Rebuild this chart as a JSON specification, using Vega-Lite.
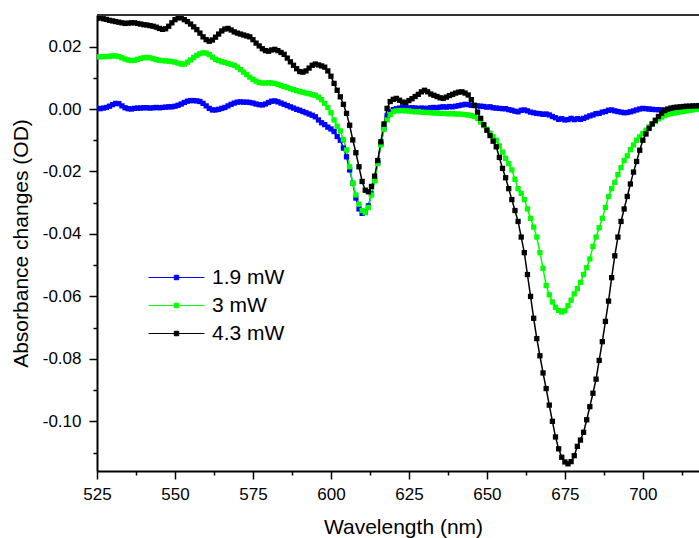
{
"$schema": "https://vega.github.io/schema/vega-lite/v6.json",
"autosize": "none",
"padding": {"left": 97, "top": 15, "right": 0, "bottom": 67},
"width": 602,
"height": 456,
"config": {"font": "Liberation Sans", "view": {"stroke": null}, "axis": {"grid": false}},
"datasets": {"spec": [
{"w":525,"a":0.0002,"s":"1.9 mW"},{"w":526,"a":0.0001,"s":"1.9 mW"},{"w":527,"a":0.0003,"s":"1.9 mW"},{"w":528,"a":0.0005,"s":"1.9 mW"},{"w":529,"a":0.0009,"s":"1.9 mW"},{"w":530,"a":0.0014,"s":"1.9 mW"},{"w":531,"a":0.0018,"s":"1.9 mW"},{"w":532,"a":0.0017,"s":"1.9 mW"},{"w":533,"a":0.0010,"s":"1.9 mW"},{"w":534,"a":0.0004,"s":"1.9 mW"},{"w":535,"a":0.0001,"s":"1.9 mW"},{"w":536,"a":0.0000,"s":"1.9 mW"},{"w":537,"a":0.0002,"s":"1.9 mW"},{"w":538,"a":0.0003,"s":"1.9 mW"},{"w":539,"a":0.0003,"s":"1.9 mW"},{"w":540,"a":0.0004,"s":"1.9 mW"},{"w":541,"a":0.0004,"s":"1.9 mW"},{"w":542,"a":0.0003,"s":"1.9 mW"},{"w":543,"a":0.0004,"s":"1.9 mW"},{"w":544,"a":0.0005,"s":"1.9 mW"},{"w":545,"a":0.0004,"s":"1.9 mW"},{"w":546,"a":0.0005,"s":"1.9 mW"},{"w":547,"a":0.0006,"s":"1.9 mW"},{"w":548,"a":0.0007,"s":"1.9 mW"},{"w":549,"a":0.0007,"s":"1.9 mW"},{"w":550,"a":0.0009,"s":"1.9 mW"},{"w":551,"a":0.0012,"s":"1.9 mW"},{"w":552,"a":0.0016,"s":"1.9 mW"},{"w":553,"a":0.0021,"s":"1.9 mW"},{"w":554,"a":0.0025,"s":"1.9 mW"},{"w":555,"a":0.0027,"s":"1.9 mW"},{"w":556,"a":0.0027,"s":"1.9 mW"},{"w":557,"a":0.0026,"s":"1.9 mW"},{"w":558,"a":0.0024,"s":"1.9 mW"},{"w":559,"a":0.0018,"s":"1.9 mW"},{"w":560,"a":0.0010,"s":"1.9 mW"},{"w":561,"a":0.0002,"s":"1.9 mW"},{"w":562,"a":-0.0003,"s":"1.9 mW"},{"w":563,"a":-0.0003,"s":"1.9 mW"},{"w":564,"a":-0.0001,"s":"1.9 mW"},{"w":565,"a":0.0002,"s":"1.9 mW"},{"w":566,"a":0.0005,"s":"1.9 mW"},{"w":567,"a":0.0010,"s":"1.9 mW"},{"w":568,"a":0.0015,"s":"1.9 mW"},{"w":569,"a":0.0019,"s":"1.9 mW"},{"w":570,"a":0.0022,"s":"1.9 mW"},{"w":571,"a":0.0023,"s":"1.9 mW"},{"w":572,"a":0.0022,"s":"1.9 mW"},{"w":573,"a":0.0022,"s":"1.9 mW"},{"w":574,"a":0.0021,"s":"1.9 mW"},{"w":575,"a":0.0019,"s":"1.9 mW"},{"w":576,"a":0.0016,"s":"1.9 mW"},{"w":577,"a":0.0014,"s":"1.9 mW"},{"w":578,"a":0.0013,"s":"1.9 mW"},{"w":579,"a":0.0016,"s":"1.9 mW"},{"w":580,"a":0.0021,"s":"1.9 mW"},{"w":581,"a":0.0025,"s":"1.9 mW"},{"w":582,"a":0.0026,"s":"1.9 mW"},{"w":583,"a":0.0023,"s":"1.9 mW"},{"w":584,"a":0.0019,"s":"1.9 mW"},{"w":585,"a":0.0015,"s":"1.9 mW"},{"w":586,"a":0.0011,"s":"1.9 mW"},{"w":587,"a":0.0007,"s":"1.9 mW"},{"w":588,"a":0.0003,"s":"1.9 mW"},{"w":589,"a":-0.0001,"s":"1.9 mW"},{"w":590,"a":-0.0004,"s":"1.9 mW"},{"w":591,"a":-0.0008,"s":"1.9 mW"},{"w":592,"a":-0.0012,"s":"1.9 mW"},{"w":593,"a":-0.0016,"s":"1.9 mW"},{"w":594,"a":-0.0020,"s":"1.9 mW"},{"w":595,"a":-0.0025,"s":"1.9 mW"},{"w":596,"a":-0.0035,"s":"1.9 mW"},{"w":597,"a":-0.0044,"s":"1.9 mW"},{"w":598,"a":-0.0050,"s":"1.9 mW"},{"w":599,"a":-0.0058,"s":"1.9 mW"},{"w":600,"a":-0.0064,"s":"1.9 mW"},{"w":601,"a":-0.0072,"s":"1.9 mW"},{"w":602,"a":-0.0088,"s":"1.9 mW"},{"w":603,"a":-0.0100,"s":"1.9 mW"},{"w":604,"a":-0.0125,"s":"1.9 mW"},{"w":605,"a":-0.0153,"s":"1.9 mW"},{"w":606,"a":-0.0195,"s":"1.9 mW"},{"w":607,"a":-0.0238,"s":"1.9 mW"},{"w":608,"a":-0.0285,"s":"1.9 mW"},{"w":609,"a":-0.0320,"s":"1.9 mW"},{"w":610,"a":-0.0334,"s":"1.9 mW"},{"w":611,"a":-0.0330,"s":"1.9 mW"},{"w":612,"a":-0.0310,"s":"1.9 mW"},{"w":613,"a":-0.0272,"s":"1.9 mW"},{"w":614,"a":-0.0228,"s":"1.9 mW"},{"w":615,"a":-0.0172,"s":"1.9 mW"},{"w":616,"a":-0.0112,"s":"1.9 mW"},{"w":617,"a":-0.0060,"s":"1.9 mW"},{"w":618,"a":-0.0022,"s":"1.9 mW"},{"w":619,"a":-0.0008,"s":"1.9 mW"},{"w":620,"a":-0.0002,"s":"1.9 mW"},{"w":621,"a":0.0001,"s":"1.9 mW"},{"w":622,"a":0.0003,"s":"1.9 mW"},{"w":623,"a":0.0005,"s":"1.9 mW"},{"w":624,"a":0.0004,"s":"1.9 mW"},{"w":625,"a":0.0003,"s":"1.9 mW"},{"w":626,"a":0.0004,"s":"1.9 mW"},{"w":627,"a":0.0003,"s":"1.9 mW"},{"w":628,"a":0.0002,"s":"1.9 mW"},{"w":629,"a":0.0003,"s":"1.9 mW"},{"w":630,"a":0.0002,"s":"1.9 mW"},{"w":631,"a":0.0002,"s":"1.9 mW"},{"w":632,"a":0.0004,"s":"1.9 mW"},{"w":633,"a":0.0005,"s":"1.9 mW"},{"w":634,"a":0.0004,"s":"1.9 mW"},{"w":635,"a":0.0006,"s":"1.9 mW"},{"w":636,"a":0.0007,"s":"1.9 mW"},{"w":637,"a":0.0006,"s":"1.9 mW"},{"w":638,"a":0.0008,"s":"1.9 mW"},{"w":639,"a":0.0007,"s":"1.9 mW"},{"w":640,"a":0.0009,"s":"1.9 mW"},{"w":641,"a":0.0011,"s":"1.9 mW"},{"w":642,"a":0.0013,"s":"1.9 mW"},{"w":643,"a":0.0015,"s":"1.9 mW"},{"w":644,"a":0.0014,"s":"1.9 mW"},{"w":645,"a":0.0012,"s":"1.9 mW"},{"w":646,"a":0.0011,"s":"1.9 mW"},{"w":647,"a":0.0010,"s":"1.9 mW"},{"w":648,"a":0.0009,"s":"1.9 mW"},{"w":649,"a":0.0008,"s":"1.9 mW"},{"w":650,"a":0.0006,"s":"1.9 mW"},{"w":651,"a":0.0007,"s":"1.9 mW"},{"w":652,"a":0.0004,"s":"1.9 mW"},{"w":653,"a":0.0003,"s":"1.9 mW"},{"w":654,"a":0.0002,"s":"1.9 mW"},{"w":655,"a":0.0001,"s":"1.9 mW"},{"w":656,"a":0.0001,"s":"1.9 mW"},{"w":657,"a":-0.0002,"s":"1.9 mW"},{"w":658,"a":-0.0004,"s":"1.9 mW"},{"w":659,"a":-0.0007,"s":"1.9 mW"},{"w":660,"a":-0.0009,"s":"1.9 mW"},{"w":661,"a":-0.0004,"s":"1.9 mW"},{"w":662,"a":-0.0003,"s":"1.9 mW"},{"w":663,"a":-0.0006,"s":"1.9 mW"},{"w":664,"a":-0.0010,"s":"1.9 mW"},{"w":665,"a":-0.0012,"s":"1.9 mW"},{"w":666,"a":-0.0014,"s":"1.9 mW"},{"w":667,"a":-0.0015,"s":"1.9 mW"},{"w":668,"a":-0.0017,"s":"1.9 mW"},{"w":669,"a":-0.0016,"s":"1.9 mW"},{"w":670,"a":-0.0019,"s":"1.9 mW"},{"w":671,"a":-0.0024,"s":"1.9 mW"},{"w":672,"a":-0.0028,"s":"1.9 mW"},{"w":673,"a":-0.0033,"s":"1.9 mW"},{"w":674,"a":-0.0031,"s":"1.9 mW"},{"w":675,"a":-0.0035,"s":"1.9 mW"},{"w":676,"a":-0.0034,"s":"1.9 mW"},{"w":677,"a":-0.0030,"s":"1.9 mW"},{"w":678,"a":-0.0034,"s":"1.9 mW"},{"w":679,"a":-0.0031,"s":"1.9 mW"},{"w":680,"a":-0.0033,"s":"1.9 mW"},{"w":681,"a":-0.0030,"s":"1.9 mW"},{"w":682,"a":-0.0026,"s":"1.9 mW"},{"w":683,"a":-0.0022,"s":"1.9 mW"},{"w":684,"a":-0.0019,"s":"1.9 mW"},{"w":685,"a":-0.0015,"s":"1.9 mW"},{"w":686,"a":-0.0014,"s":"1.9 mW"},{"w":687,"a":-0.0010,"s":"1.9 mW"},{"w":688,"a":-0.0008,"s":"1.9 mW"},{"w":689,"a":-0.0004,"s":"1.9 mW"},{"w":690,"a":-0.0003,"s":"1.9 mW"},{"w":691,"a":-0.0006,"s":"1.9 mW"},{"w":692,"a":-0.0008,"s":"1.9 mW"},{"w":693,"a":-0.0010,"s":"1.9 mW"},{"w":694,"a":-0.0012,"s":"1.9 mW"},{"w":695,"a":-0.0011,"s":"1.9 mW"},{"w":696,"a":-0.0009,"s":"1.9 mW"},{"w":697,"a":-0.0006,"s":"1.9 mW"},{"w":698,"a":-0.0003,"s":"1.9 mW"},{"w":699,"a":0.0000,"s":"1.9 mW"},{"w":700,"a":0.0002,"s":"1.9 mW"},{"w":701,"a":0.0001,"s":"1.9 mW"},{"w":702,"a":0.0000,"s":"1.9 mW"},{"w":703,"a":-0.0001,"s":"1.9 mW"},{"w":704,"a":-0.0002,"s":"1.9 mW"},{"w":705,"a":-0.0002,"s":"1.9 mW"},{"w":706,"a":-0.0003,"s":"1.9 mW"},{"w":707,"a":-0.0003,"s":"1.9 mW"},{"w":708,"a":-0.0002,"s":"1.9 mW"},{"w":709,"a":-0.0001,"s":"1.9 mW"},{"w":710,"a":0.0000,"s":"1.9 mW"},{"w":711,"a":0.0001,"s":"1.9 mW"},{"w":712,"a":0.0002,"s":"1.9 mW"},{"w":713,"a":0.0002,"s":"1.9 mW"},{"w":714,"a":0.0003,"s":"1.9 mW"},{"w":715,"a":0.0004,"s":"1.9 mW"},{"w":716,"a":0.0005,"s":"1.9 mW"},{"w":717,"a":0.0006,"s":"1.9 mW"},{"w":718,"a":0.0007,"s":"1.9 mW"},
{"w":525,"a":0.0167,"s":"3 mW"},{"w":526,"a":0.0167,"s":"3 mW"},{"w":527,"a":0.0168,"s":"3 mW"},{"w":528,"a":0.0168,"s":"3 mW"},{"w":529,"a":0.0169,"s":"3 mW"},{"w":530,"a":0.0170,"s":"3 mW"},{"w":531,"a":0.0170,"s":"3 mW"},{"w":532,"a":0.0168,"s":"3 mW"},{"w":533,"a":0.0164,"s":"3 mW"},{"w":534,"a":0.0160,"s":"3 mW"},{"w":535,"a":0.0157,"s":"3 mW"},{"w":536,"a":0.0155,"s":"3 mW"},{"w":537,"a":0.0156,"s":"3 mW"},{"w":538,"a":0.0159,"s":"3 mW"},{"w":539,"a":0.0162,"s":"3 mW"},{"w":540,"a":0.0164,"s":"3 mW"},{"w":541,"a":0.0165,"s":"3 mW"},{"w":542,"a":0.0164,"s":"3 mW"},{"w":543,"a":0.0161,"s":"3 mW"},{"w":544,"a":0.0158,"s":"3 mW"},{"w":545,"a":0.0156,"s":"3 mW"},{"w":546,"a":0.0155,"s":"3 mW"},{"w":547,"a":0.0154,"s":"3 mW"},{"w":548,"a":0.0153,"s":"3 mW"},{"w":549,"a":0.0152,"s":"3 mW"},{"w":550,"a":0.0150,"s":"3 mW"},{"w":551,"a":0.0147,"s":"3 mW"},{"w":552,"a":0.0144,"s":"3 mW"},{"w":553,"a":0.0144,"s":"3 mW"},{"w":554,"a":0.0150,"s":"3 mW"},{"w":555,"a":0.0157,"s":"3 mW"},{"w":556,"a":0.0165,"s":"3 mW"},{"w":557,"a":0.0172,"s":"3 mW"},{"w":558,"a":0.0177,"s":"3 mW"},{"w":559,"a":0.0180,"s":"3 mW"},{"w":560,"a":0.0179,"s":"3 mW"},{"w":561,"a":0.0174,"s":"3 mW"},{"w":562,"a":0.0166,"s":"3 mW"},{"w":563,"a":0.0159,"s":"3 mW"},{"w":564,"a":0.0155,"s":"3 mW"},{"w":565,"a":0.0151,"s":"3 mW"},{"w":566,"a":0.0149,"s":"3 mW"},{"w":567,"a":0.0146,"s":"3 mW"},{"w":568,"a":0.0143,"s":"3 mW"},{"w":569,"a":0.0140,"s":"3 mW"},{"w":570,"a":0.0134,"s":"3 mW"},{"w":571,"a":0.0126,"s":"3 mW"},{"w":572,"a":0.0118,"s":"3 mW"},{"w":573,"a":0.0110,"s":"3 mW"},{"w":574,"a":0.0102,"s":"3 mW"},{"w":575,"a":0.0095,"s":"3 mW"},{"w":576,"a":0.0089,"s":"3 mW"},{"w":577,"a":0.0085,"s":"3 mW"},{"w":578,"a":0.0083,"s":"3 mW"},{"w":579,"a":0.0083,"s":"3 mW"},{"w":580,"a":0.0084,"s":"3 mW"},{"w":581,"a":0.0083,"s":"3 mW"},{"w":582,"a":0.0082,"s":"3 mW"},{"w":583,"a":0.0079,"s":"3 mW"},{"w":584,"a":0.0075,"s":"3 mW"},{"w":585,"a":0.0072,"s":"3 mW"},{"w":586,"a":0.0069,"s":"3 mW"},{"w":587,"a":0.0065,"s":"3 mW"},{"w":588,"a":0.0062,"s":"3 mW"},{"w":589,"a":0.0059,"s":"3 mW"},{"w":590,"a":0.0056,"s":"3 mW"},{"w":591,"a":0.0054,"s":"3 mW"},{"w":592,"a":0.0051,"s":"3 mW"},{"w":593,"a":0.0049,"s":"3 mW"},{"w":594,"a":0.0046,"s":"3 mW"},{"w":595,"a":0.0044,"s":"3 mW"},{"w":596,"a":0.0038,"s":"3 mW"},{"w":597,"a":0.0030,"s":"3 mW"},{"w":598,"a":0.0018,"s":"3 mW"},{"w":599,"a":0.0005,"s":"3 mW"},{"w":600,"a":-0.0012,"s":"3 mW"},{"w":601,"a":-0.0035,"s":"3 mW"},{"w":602,"a":-0.0055,"s":"3 mW"},{"w":603,"a":-0.0070,"s":"3 mW"},{"w":604,"a":-0.0098,"s":"3 mW"},{"w":605,"a":-0.0131,"s":"3 mW"},{"w":606,"a":-0.0185,"s":"3 mW"},{"w":607,"a":-0.0238,"s":"3 mW"},{"w":608,"a":-0.0275,"s":"3 mW"},{"w":609,"a":-0.0305,"s":"3 mW"},{"w":610,"a":-0.0325,"s":"3 mW"},{"w":611,"a":-0.0332,"s":"3 mW"},{"w":612,"a":-0.0315,"s":"3 mW"},{"w":613,"a":-0.0275,"s":"3 mW"},{"w":614,"a":-0.0230,"s":"3 mW"},{"w":615,"a":-0.0175,"s":"3 mW"},{"w":616,"a":-0.0115,"s":"3 mW"},{"w":617,"a":-0.0065,"s":"3 mW"},{"w":618,"a":-0.0035,"s":"3 mW"},{"w":619,"a":-0.0018,"s":"3 mW"},{"w":620,"a":-0.0008,"s":"3 mW"},{"w":621,"a":-0.0006,"s":"3 mW"},{"w":622,"a":-0.0005,"s":"3 mW"},{"w":623,"a":-0.0005,"s":"3 mW"},{"w":624,"a":-0.0006,"s":"3 mW"},{"w":625,"a":-0.0006,"s":"3 mW"},{"w":626,"a":-0.0008,"s":"3 mW"},{"w":627,"a":-0.0009,"s":"3 mW"},{"w":628,"a":-0.0008,"s":"3 mW"},{"w":629,"a":-0.0010,"s":"3 mW"},{"w":630,"a":-0.0011,"s":"3 mW"},{"w":631,"a":-0.0011,"s":"3 mW"},{"w":632,"a":-0.0012,"s":"3 mW"},{"w":633,"a":-0.0013,"s":"3 mW"},{"w":634,"a":-0.0013,"s":"3 mW"},{"w":635,"a":-0.0014,"s":"3 mW"},{"w":636,"a":-0.0014,"s":"3 mW"},{"w":637,"a":-0.0015,"s":"3 mW"},{"w":638,"a":-0.0015,"s":"3 mW"},{"w":639,"a":-0.0015,"s":"3 mW"},{"w":640,"a":-0.0016,"s":"3 mW"},{"w":641,"a":-0.0016,"s":"3 mW"},{"w":642,"a":-0.0017,"s":"3 mW"},{"w":643,"a":-0.0018,"s":"3 mW"},{"w":644,"a":-0.0019,"s":"3 mW"},{"w":645,"a":-0.0021,"s":"3 mW"},{"w":646,"a":-0.0024,"s":"3 mW"},{"w":647,"a":-0.0030,"s":"3 mW"},{"w":648,"a":-0.0042,"s":"3 mW"},{"w":649,"a":-0.0053,"s":"3 mW"},{"w":650,"a":-0.0065,"s":"3 mW"},{"w":651,"a":-0.0077,"s":"3 mW"},{"w":652,"a":-0.0089,"s":"3 mW"},{"w":653,"a":-0.0100,"s":"3 mW"},{"w":654,"a":-0.0118,"s":"3 mW"},{"w":655,"a":-0.0138,"s":"3 mW"},{"w":656,"a":-0.0158,"s":"3 mW"},{"w":657,"a":-0.0175,"s":"3 mW"},{"w":658,"a":-0.0195,"s":"3 mW"},{"w":659,"a":-0.0225,"s":"3 mW"},{"w":660,"a":-0.0255,"s":"3 mW"},{"w":661,"a":-0.0270,"s":"3 mW"},{"w":662,"a":-0.0290,"s":"3 mW"},{"w":663,"a":-0.0320,"s":"3 mW"},{"w":664,"a":-0.0350,"s":"3 mW"},{"w":665,"a":-0.0378,"s":"3 mW"},{"w":666,"a":-0.0410,"s":"3 mW"},{"w":667,"a":-0.0460,"s":"3 mW"},{"w":668,"a":-0.0510,"s":"3 mW"},{"w":669,"a":-0.0565,"s":"3 mW"},{"w":670,"a":-0.0595,"s":"3 mW"},{"w":671,"a":-0.0618,"s":"3 mW"},{"w":672,"a":-0.0635,"s":"3 mW"},{"w":673,"a":-0.0645,"s":"3 mW"},{"w":674,"a":-0.0650,"s":"3 mW"},{"w":675,"a":-0.0646,"s":"3 mW"},{"w":676,"a":-0.0630,"s":"3 mW"},{"w":677,"a":-0.0612,"s":"3 mW"},{"w":678,"a":-0.0592,"s":"3 mW"},{"w":679,"a":-0.0575,"s":"3 mW"},{"w":680,"a":-0.0555,"s":"3 mW"},{"w":681,"a":-0.0530,"s":"3 mW"},{"w":682,"a":-0.0508,"s":"3 mW"},{"w":683,"a":-0.0480,"s":"3 mW"},{"w":684,"a":-0.0440,"s":"3 mW"},{"w":685,"a":-0.0410,"s":"3 mW"},{"w":686,"a":-0.0380,"s":"3 mW"},{"w":687,"a":-0.0350,"s":"3 mW"},{"w":688,"a":-0.0315,"s":"3 mW"},{"w":689,"a":-0.0280,"s":"3 mW"},{"w":690,"a":-0.0255,"s":"3 mW"},{"w":691,"a":-0.0235,"s":"3 mW"},{"w":692,"a":-0.0210,"s":"3 mW"},{"w":693,"a":-0.0188,"s":"3 mW"},{"w":694,"a":-0.0165,"s":"3 mW"},{"w":695,"a":-0.0150,"s":"3 mW"},{"w":696,"a":-0.0130,"s":"3 mW"},{"w":697,"a":-0.0115,"s":"3 mW"},{"w":698,"a":-0.0100,"s":"3 mW"},{"w":699,"a":-0.0089,"s":"3 mW"},{"w":700,"a":-0.0078,"s":"3 mW"},{"w":701,"a":-0.0068,"s":"3 mW"},{"w":702,"a":-0.0057,"s":"3 mW"},{"w":703,"a":-0.0048,"s":"3 mW"},{"w":704,"a":-0.0040,"s":"3 mW"},{"w":705,"a":-0.0032,"s":"3 mW"},{"w":706,"a":-0.0026,"s":"3 mW"},{"w":707,"a":-0.0021,"s":"3 mW"},{"w":708,"a":-0.0017,"s":"3 mW"},{"w":709,"a":-0.0015,"s":"3 mW"},{"w":710,"a":-0.0013,"s":"3 mW"},{"w":711,"a":-0.0011,"s":"3 mW"},{"w":712,"a":-0.0009,"s":"3 mW"},{"w":713,"a":-0.0008,"s":"3 mW"},{"w":714,"a":-0.0006,"s":"3 mW"},{"w":715,"a":-0.0004,"s":"3 mW"},{"w":716,"a":-0.0003,"s":"3 mW"},{"w":717,"a":-0.0001,"s":"3 mW"},{"w":718,"a":0.0000,"s":"3 mW"},
{"w":525,"a":0.0290,"s":"4.3 mW"},{"w":526,"a":0.0292,"s":"4.3 mW"},{"w":527,"a":0.0289,"s":"4.3 mW"},{"w":528,"a":0.0287,"s":"4.3 mW"},{"w":529,"a":0.0284,"s":"4.3 mW"},{"w":530,"a":0.0282,"s":"4.3 mW"},{"w":531,"a":0.0280,"s":"4.3 mW"},{"w":532,"a":0.0278,"s":"4.3 mW"},{"w":533,"a":0.0276,"s":"4.3 mW"},{"w":534,"a":0.0274,"s":"4.3 mW"},{"w":535,"a":0.0275,"s":"4.3 mW"},{"w":536,"a":0.0276,"s":"4.3 mW"},{"w":537,"a":0.0276,"s":"4.3 mW"},{"w":538,"a":0.0274,"s":"4.3 mW"},{"w":539,"a":0.0272,"s":"4.3 mW"},{"w":540,"a":0.0270,"s":"4.3 mW"},{"w":541,"a":0.0269,"s":"4.3 mW"},{"w":542,"a":0.0267,"s":"4.3 mW"},{"w":543,"a":0.0265,"s":"4.3 mW"},{"w":544,"a":0.0262,"s":"4.3 mW"},{"w":545,"a":0.0258,"s":"4.3 mW"},{"w":546,"a":0.0255,"s":"4.3 mW"},{"w":547,"a":0.0257,"s":"4.3 mW"},{"w":548,"a":0.0265,"s":"4.3 mW"},{"w":549,"a":0.0276,"s":"4.3 mW"},{"w":550,"a":0.0286,"s":"4.3 mW"},{"w":551,"a":0.0292,"s":"4.3 mW"},{"w":552,"a":0.0292,"s":"4.3 mW"},{"w":553,"a":0.0286,"s":"4.3 mW"},{"w":554,"a":0.0280,"s":"4.3 mW"},{"w":555,"a":0.0272,"s":"4.3 mW"},{"w":556,"a":0.0263,"s":"4.3 mW"},{"w":557,"a":0.0254,"s":"4.3 mW"},{"w":558,"a":0.0243,"s":"4.3 mW"},{"w":559,"a":0.0231,"s":"4.3 mW"},{"w":560,"a":0.0222,"s":"4.3 mW"},{"w":561,"a":0.0217,"s":"4.3 mW"},{"w":562,"a":0.0221,"s":"4.3 mW"},{"w":563,"a":0.0230,"s":"4.3 mW"},{"w":564,"a":0.0240,"s":"4.3 mW"},{"w":565,"a":0.0250,"s":"4.3 mW"},{"w":566,"a":0.0256,"s":"4.3 mW"},{"w":567,"a":0.0258,"s":"4.3 mW"},{"w":568,"a":0.0253,"s":"4.3 mW"},{"w":569,"a":0.0247,"s":"4.3 mW"},{"w":570,"a":0.0243,"s":"4.3 mW"},{"w":571,"a":0.0240,"s":"4.3 mW"},{"w":572,"a":0.0237,"s":"4.3 mW"},{"w":573,"a":0.0234,"s":"4.3 mW"},{"w":574,"a":0.0231,"s":"4.3 mW"},{"w":575,"a":0.0222,"s":"4.3 mW"},{"w":576,"a":0.0211,"s":"4.3 mW"},{"w":577,"a":0.0202,"s":"4.3 mW"},{"w":578,"a":0.0193,"s":"4.3 mW"},{"w":579,"a":0.0187,"s":"4.3 mW"},{"w":580,"a":0.0185,"s":"4.3 mW"},{"w":581,"a":0.0189,"s":"4.3 mW"},{"w":582,"a":0.0191,"s":"4.3 mW"},{"w":583,"a":0.0187,"s":"4.3 mW"},{"w":584,"a":0.0181,"s":"4.3 mW"},{"w":585,"a":0.0175,"s":"4.3 mW"},{"w":586,"a":0.0163,"s":"4.3 mW"},{"w":587,"a":0.0151,"s":"4.3 mW"},{"w":588,"a":0.0140,"s":"4.3 mW"},{"w":589,"a":0.0129,"s":"4.3 mW"},{"w":590,"a":0.0120,"s":"4.3 mW"},{"w":591,"a":0.0118,"s":"4.3 mW"},{"w":592,"a":0.0122,"s":"4.3 mW"},{"w":593,"a":0.0131,"s":"4.3 mW"},{"w":594,"a":0.0140,"s":"4.3 mW"},{"w":595,"a":0.0144,"s":"4.3 mW"},{"w":596,"a":0.0141,"s":"4.3 mW"},{"w":597,"a":0.0138,"s":"4.3 mW"},{"w":598,"a":0.0134,"s":"4.3 mW"},{"w":599,"a":0.0122,"s":"4.3 mW"},{"w":600,"a":0.0105,"s":"4.3 mW"},{"w":601,"a":0.0082,"s":"4.3 mW"},{"w":602,"a":0.0060,"s":"4.3 mW"},{"w":603,"a":0.0039,"s":"4.3 mW"},{"w":604,"a":0.0015,"s":"4.3 mW"},{"w":605,"a":-0.0014,"s":"4.3 mW"},{"w":606,"a":-0.0052,"s":"4.3 mW"},{"w":607,"a":-0.0099,"s":"4.3 mW"},{"w":608,"a":-0.0140,"s":"4.3 mW"},{"w":609,"a":-0.0185,"s":"4.3 mW"},{"w":610,"a":-0.0232,"s":"4.3 mW"},{"w":611,"a":-0.0260,"s":"4.3 mW"},{"w":612,"a":-0.0265,"s":"4.3 mW"},{"w":613,"a":-0.0248,"s":"4.3 mW"},{"w":614,"a":-0.0215,"s":"4.3 mW"},{"w":615,"a":-0.0165,"s":"4.3 mW"},{"w":616,"a":-0.0105,"s":"4.3 mW"},{"w":617,"a":-0.0048,"s":"4.3 mW"},{"w":618,"a":0.0002,"s":"4.3 mW"},{"w":619,"a":0.0024,"s":"4.3 mW"},{"w":620,"a":0.0031,"s":"4.3 mW"},{"w":621,"a":0.0034,"s":"4.3 mW"},{"w":622,"a":0.0028,"s":"4.3 mW"},{"w":623,"a":0.0022,"s":"4.3 mW"},{"w":624,"a":0.0021,"s":"4.3 mW"},{"w":625,"a":0.0027,"s":"4.3 mW"},{"w":626,"a":0.0033,"s":"4.3 mW"},{"w":627,"a":0.0040,"s":"4.3 mW"},{"w":628,"a":0.0047,"s":"4.3 mW"},{"w":629,"a":0.0055,"s":"4.3 mW"},{"w":630,"a":0.0060,"s":"4.3 mW"},{"w":631,"a":0.0055,"s":"4.3 mW"},{"w":632,"a":0.0048,"s":"4.3 mW"},{"w":633,"a":0.0044,"s":"4.3 mW"},{"w":634,"a":0.0040,"s":"4.3 mW"},{"w":635,"a":0.0036,"s":"4.3 mW"},{"w":636,"a":0.0034,"s":"4.3 mW"},{"w":637,"a":0.0038,"s":"4.3 mW"},{"w":638,"a":0.0043,"s":"4.3 mW"},{"w":639,"a":0.0047,"s":"4.3 mW"},{"w":640,"a":0.0051,"s":"4.3 mW"},{"w":641,"a":0.0054,"s":"4.3 mW"},{"w":642,"a":0.0055,"s":"4.3 mW"},{"w":643,"a":0.0051,"s":"4.3 mW"},{"w":644,"a":0.0045,"s":"4.3 mW"},{"w":645,"a":0.0030,"s":"4.3 mW"},{"w":646,"a":0.0012,"s":"4.3 mW"},{"w":647,"a":-0.0010,"s":"4.3 mW"},{"w":648,"a":-0.0030,"s":"4.3 mW"},{"w":649,"a":-0.0050,"s":"4.3 mW"},{"w":650,"a":-0.0068,"s":"4.3 mW"},{"w":651,"a":-0.0085,"s":"4.3 mW"},{"w":652,"a":-0.0103,"s":"4.3 mW"},{"w":653,"a":-0.0121,"s":"4.3 mW"},{"w":654,"a":-0.0155,"s":"4.3 mW"},{"w":655,"a":-0.0190,"s":"4.3 mW"},{"w":656,"a":-0.0220,"s":"4.3 mW"},{"w":657,"a":-0.0255,"s":"4.3 mW"},{"w":658,"a":-0.0290,"s":"4.3 mW"},{"w":659,"a":-0.0325,"s":"4.3 mW"},{"w":660,"a":-0.0360,"s":"4.3 mW"},{"w":661,"a":-0.0410,"s":"4.3 mW"},{"w":662,"a":-0.0460,"s":"4.3 mW"},{"w":663,"a":-0.0530,"s":"4.3 mW"},{"w":664,"a":-0.0600,"s":"4.3 mW"},{"w":665,"a":-0.0670,"s":"4.3 mW"},{"w":666,"a":-0.0735,"s":"4.3 mW"},{"w":667,"a":-0.0790,"s":"4.3 mW"},{"w":668,"a":-0.0845,"s":"4.3 mW"},{"w":669,"a":-0.0895,"s":"4.3 mW"},{"w":670,"a":-0.0948,"s":"4.3 mW"},{"w":671,"a":-0.1000,"s":"4.3 mW"},{"w":672,"a":-0.1050,"s":"4.3 mW"},{"w":673,"a":-0.1088,"s":"4.3 mW"},{"w":674,"a":-0.1115,"s":"4.3 mW"},{"w":675,"a":-0.1130,"s":"4.3 mW"},{"w":676,"a":-0.1136,"s":"4.3 mW"},{"w":677,"a":-0.1129,"s":"4.3 mW"},{"w":678,"a":-0.1110,"s":"4.3 mW"},{"w":679,"a":-0.1080,"s":"4.3 mW"},{"w":680,"a":-0.1060,"s":"4.3 mW"},{"w":681,"a":-0.1035,"s":"4.3 mW"},{"w":682,"a":-0.0995,"s":"4.3 mW"},{"w":683,"a":-0.0953,"s":"4.3 mW"},{"w":684,"a":-0.0910,"s":"4.3 mW"},{"w":685,"a":-0.0865,"s":"4.3 mW"},{"w":686,"a":-0.0805,"s":"4.3 mW"},{"w":687,"a":-0.0745,"s":"4.3 mW"},{"w":688,"a":-0.0680,"s":"4.3 mW"},{"w":689,"a":-0.0615,"s":"4.3 mW"},{"w":690,"a":-0.0540,"s":"4.3 mW"},{"w":691,"a":-0.0470,"s":"4.3 mW"},{"w":692,"a":-0.0410,"s":"4.3 mW"},{"w":693,"a":-0.0360,"s":"4.3 mW"},{"w":694,"a":-0.0320,"s":"4.3 mW"},{"w":695,"a":-0.0280,"s":"4.3 mW"},{"w":696,"a":-0.0240,"s":"4.3 mW"},{"w":697,"a":-0.0202,"s":"4.3 mW"},{"w":698,"a":-0.0168,"s":"4.3 mW"},{"w":699,"a":-0.0132,"s":"4.3 mW"},{"w":700,"a":-0.0100,"s":"4.3 mW"},{"w":701,"a":-0.0080,"s":"4.3 mW"},{"w":702,"a":-0.0062,"s":"4.3 mW"},{"w":703,"a":-0.0048,"s":"4.3 mW"},{"w":704,"a":-0.0036,"s":"4.3 mW"},{"w":705,"a":-0.0024,"s":"4.3 mW"},{"w":706,"a":-0.0013,"s":"4.3 mW"},{"w":707,"a":-0.0005,"s":"4.3 mW"},{"w":708,"a":0.0000,"s":"4.3 mW"},{"w":709,"a":0.0003,"s":"4.3 mW"},{"w":710,"a":0.0005,"s":"4.3 mW"},{"w":711,"a":0.0006,"s":"4.3 mW"},{"w":712,"a":0.0007,"s":"4.3 mW"},{"w":713,"a":0.0008,"s":"4.3 mW"},{"w":714,"a":0.0009,"s":"4.3 mW"},{"w":715,"a":0.0009,"s":"4.3 mW"},{"w":716,"a":0.0010,"s":"4.3 mW"},{"w":717,"a":0.0010,"s":"4.3 mW"},{"w":718,"a":0.0011,"s":"4.3 mW"}
]},
"data": {"name": "spec"},
"resolve": {"axis": {"x": "independent", "y": "independent"}},
"layer": [
{
"mark": {"type": "line", "strokeWidth": 1.5, "clip": true},
"encoding": {
"x": {"field": "w", "type": "quantitative", "scale": {"domain": [525, 718], "nice": false, "zero": false},
"axis": {"orient": "bottom", "values": [525,550,575,600,625,650,675,700],
"format": "d", "labelFlush": false, "labelOverlap": false, "labelFontSize": 17, "labelColor": "#000", "labelPadding": 7,
"tickSize": 8, "tickColor": "#000", "tickWidth": 1.5, "domainColor": "#000", "domainWidth": 2,
"title": "Wavelength (nm)", "titleFontSize": 21, "titleFontWeight": "normal", "titleColor": "#000",
"titleBaseline": "alphabetic", "titleX": 306, "titleY": 62, "titleAlign": "center"}},
"y": {"field": "a", "type": "quantitative", "scale": {"domain": [-0.1159, 0.0301], "nice": false, "zero": false},
"axis": {"orient": "left", "values": [-0.1,-0.08,-0.06,-0.04,-0.02,0,0.02],
"labelExpr": "replace(format(datum.value, '.2f'), '−', '-')",
"labelOverlap": false, "labelFontSize": 17, "labelColor": "#000", "labelPadding": 8,
"tickSize": 8, "tickColor": "#000", "tickWidth": 1.5, "domainColor": "#000", "domainWidth": 2,
"title": "Absorbance changes (OD)", "titleFontSize": 21, "titleFontWeight": "normal", "titleColor": "#000",
"titleBaseline": "alphabetic", "titleAngle": -90, "titleX": -70, "titleY": 228, "titleAlign": "center"}},
"color": {"field": "s", "type": "nominal", "scale": {"domain": ["1.9 mW", "3 mW", "4.3 mW"], "range": ["#0000ff", "#00ff00", "#000000"]},
"legend": {"orient": "none", "legendX": 69, "legendY": 252, "title": null, "padding": 0,
"symbolType": "M-3,0H3M-0.24,-0.24H0.24V0.24H-0.24Z", "symbolSize": 348, "symbolStrokeWidth": 1,
"labelFontSize": 21, "labelColor": "#000", "labelOffset": 25, "rowPadding": 6}}
}
},
{
"mark": {"type": "point", "shape": "square", "filled": true, "size": 28, "opacity": 1, "clip": true},
"encoding": {
"x": {"field": "w", "type": "quantitative",
"axis": {"orient": "bottom", "values": [537.5,562.5,587.5,612.5,637.5,662.5,687.5,712.5], "labels": false, "domain": false,
"tickSize": 4, "tickColor": "#000", "tickWidth": 1.5, "title": null}},
"y": {"field": "a", "type": "quantitative",
"axis": {"orient": "left", "values": [-0.11,-0.09,-0.07,-0.05,-0.03,-0.01,0.01], "labels": false, "domain": false,
"tickSize": 4, "tickColor": "#000", "tickWidth": 1.5, "title": null}},
"color": {"field": "s", "type": "nominal"}
}
},
{
"mark": {"type": "rule", "color": "#333", "strokeWidth": 1.5},
"encoding": {
"y": {"datum": 0.0301, "type": "quantitative", "axis": null}
}
}
]
}
